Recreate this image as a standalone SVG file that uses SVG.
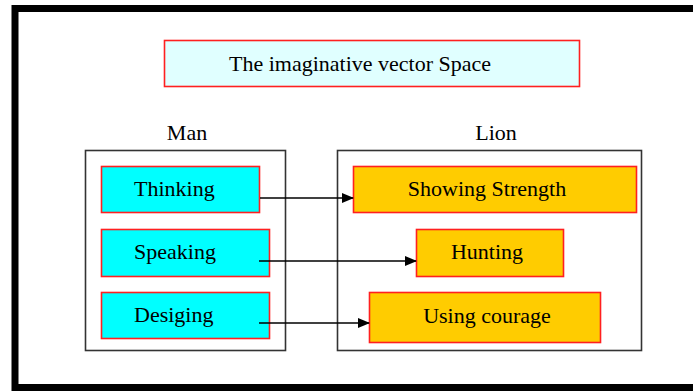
<svg xmlns="http://www.w3.org/2000/svg" width="693" height="391" viewBox="0 0 693 391">
<style>
text{font-family:"Liberation Serif","Times New Roman",serif;font-size:22px;fill:#000}
.grp{fill:#fff;stroke:#333;stroke-width:1.6}
.man{fill:#00FFFF;stroke:#FF2020;stroke-width:1.6}
.lion{fill:#FFCC00;stroke:#FF2020;stroke-width:1.6}
.edge{stroke:#000;stroke-width:1.5;fill:none;marker-end:url(#ah)}
</style>
<defs>
<marker id="ah" markerWidth="12" markerHeight="10" refX="11" refY="5" orient="auto" markerUnits="userSpaceOnUse">
<path d="M0,0 L12,5 L0,10 Z" fill="#000"/>
</marker>
</defs>
<rect x="0" y="0" width="693" height="391" fill="#fff"/>
<rect x="15" y="8.5" width="700" height="379" fill="#fff" stroke="#000" stroke-width="7"/>
<g id="title">
<rect x="164.5" y="40.5" width="415" height="46" fill="#E0FFFF" stroke="#FF2020" stroke-width="1.6"/>
<text x="360" y="71" text-anchor="middle">The imaginative vector Space</text>
</g>
<g id="man">
<rect class="grp" x="85.5" y="150.5" width="200" height="200"/>
<text x="187" y="140" text-anchor="middle">Man</text>
</g>
<g id="lion">
<rect class="grp" x="337.5" y="150.5" width="304" height="200"/>
<text x="496" y="140" text-anchor="middle">Lion</text>
</g>
<g id="thinking">
<rect class="man" x="101.5" y="166.5" width="158" height="46"/>
<text x="134" y="196">Thinking</text>
</g>
<g id="speaking">
<rect class="man" x="101.5" y="229.5" width="168" height="47"/>
<text x="134" y="259">Speaking</text>
</g>
<g id="desiging">
<rect class="man" x="101.5" y="292.5" width="168" height="46"/>
<text x="134" y="322">Desiging</text>
</g>
<g id="showing">
<rect class="lion" x="353.5" y="166.5" width="283" height="46"/>
<text x="487" y="196" text-anchor="middle">Showing Strength</text>
</g>
<g id="hunting">
<rect class="lion" x="416.5" y="229.5" width="147" height="47"/>
<text x="487" y="259" text-anchor="middle">Hunting</text>
</g>
<g id="courage">
<rect class="lion" x="369.5" y="292.5" width="231" height="50"/>
<text x="487" y="323" text-anchor="middle">Using courage</text>
</g>
<g id="connectors">
<line class="edge" x1="260" y1="198" x2="353" y2="198"/>
<line class="edge" x1="259" y1="261" x2="416" y2="261"/>
<line class="edge" x1="259" y1="323" x2="369" y2="323"/>
</g>
</svg>
